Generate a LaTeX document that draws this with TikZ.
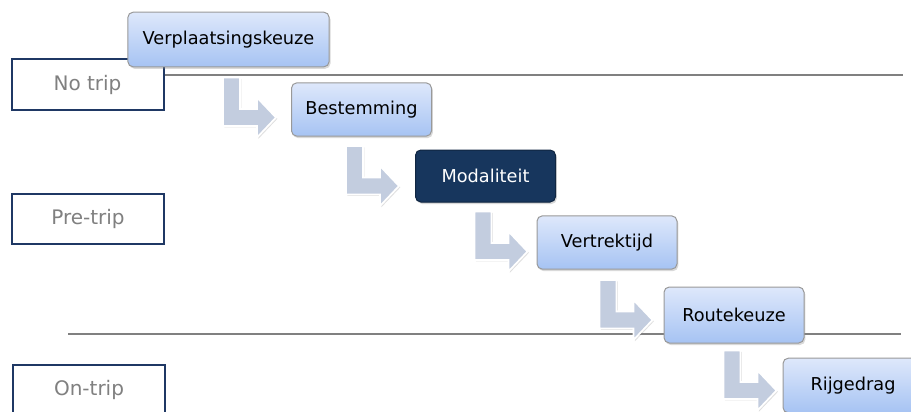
\documentclass[tikz,border=0pt]{standalone}
\usepackage{fontspec}
\setmainfont{DejaVu Sans}
\usepackage{tikz}
\usetikzlibrary{arrows.meta, positioning, calc, shadows}

\definecolor{navy}{HTML}{17365D}
\definecolor{frame}{HTML}{1F3864}
\definecolor{boxtop}{HTML}{DEE8FB}
\definecolor{boxbot}{HTML}{A6C3F3}
\definecolor{arrowfill}{HTML}{C3CDDF}
\definecolor{labelgray}{HTML}{808080}

\begin{document}
\begin{tikzpicture}[
    x=0.75pt, y=-0.75pt,
    choice/.style={draw=gray!80, line width=0.75pt, rounded corners=4pt,
        top color=boxtop, bottom color=boxbot,
        minimum width=105pt, minimum height=40pt, inner sep=0pt,
        font=\fontsize{13.3}{16}\selectfont,
        drop shadow={shadow xshift=1pt, shadow yshift=-1.5pt, opacity=0.3}},
    current/.style={choice, fill=navy, top color=navy, bottom color=navy,
        draw=navy!70!black, text=white},
    phase/.style={draw=frame, line width=1.5pt, fill=white, text=labelgray,
        minimum width=114pt, minimum height=38pt, inner sep=0pt,
        font=\fontsize{15}{18}\selectfont},
    divider/.style={draw=gray, line width=1.1pt},
    larrow/.pic={
        \filldraw[fill=arrowfill, draw=white, line width=1.3pt,
            drop shadow={shadow xshift=1pt, shadow yshift=-1pt, opacity=0.25}]
            (0,0) -- (-19,-20) -- (-19,-8.5) -- (-36,-8.5) -- (-36,-40)
            -- (-53,-40) -- (-53,8.5) -- (-19,8.5) -- (-19,20) -- cycle;
    }
]

\useasboundingbox (0,0) rectangle (911,411);

% === PHASE DIVIDERS ===
\coordinate (d1a) at (164,75);
\coordinate (d1b) at (903,75);
\coordinate (d2a) at (68,334);
\coordinate (d2b) at (901,334);
\draw[divider] (d1a) -- (d1b);
\draw[divider] (d2a) -- (d2b);

% === PHASE LABELS ===
\node[phase] (notrip) at (87.5,84.5) {No trip};
\node[phase] (pretrip) at (88,219) {Pre-trip};
\node[phase] (ontrip) at (89,390) {On-trip};

% === CHOICE STEPS ===
\node[choice, minimum width=151pt, minimum height=41pt] (verpl) at (228.5,39.5) {Verplaatsingskeuze};
\node[choice] (best) at (361.5,109.5) {Bestemming};
\node[current, minimum height=39pt] (moda) at (485.5,176) {Modaliteit};
\node[choice] (vert) at (607,242.5) {Vertrektijd};
\node[choice, minimum height=42pt] (route) at (734,315) {Routekeuze};
\node[choice, minimum height=41pt] (rijg) at (853,385.5) {Rijgedrag};

% === BENT ARROWS between steps ===
\pic at ($(best.west)+(-15,8)$) {larrow};
\pic at ($(moda.west)+(-16,10)$) {larrow};
\pic at ($(vert.west)+(-9,9)$) {larrow};
\pic at ($(route.west)+(-11,5)$) {larrow};
\pic at ($(rijg.west)+(-6,5)$) {larrow};

\end{tikzpicture}
\end{document}
